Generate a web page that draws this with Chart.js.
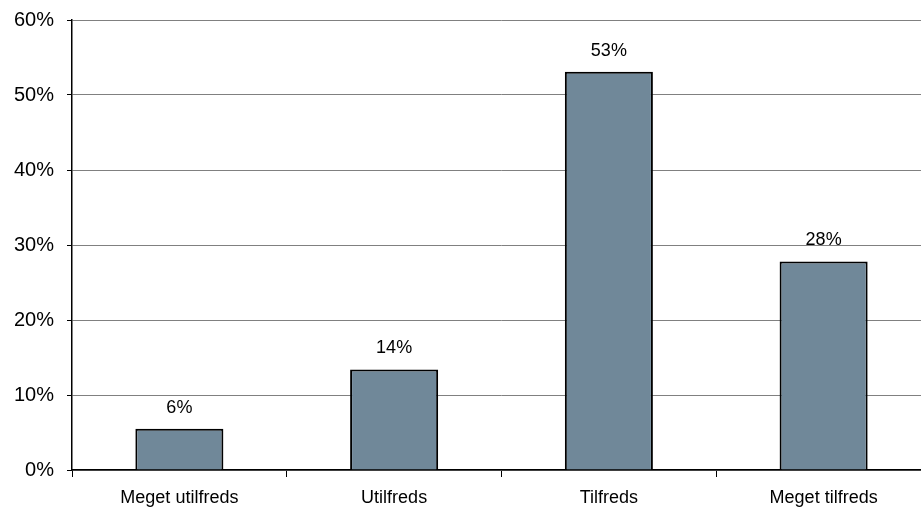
<!DOCTYPE html>
<html>
<head>
<meta charset="utf-8">
<script src="https://cdn.jsdelivr.net/npm/chart.js@4/dist/chart.umd.min.js"></script>
<style>
html,body{margin:0;padding:0;background:#ffffff;overflow:hidden;width:921px;height:508px;}
canvas{display:block;}
</style>
</head>
<body>
<canvas id="c" width="931" height="508"></canvas>
<script>
const categories = ["Meget utilfreds", "Utilfreds", "Tilfreds", "Meget tilfreds"];
const values = [5.5, 13.4, 53.1, 27.8];
const valueLabels = ["6%", "14%", "53%", "28%"];
const yTicks = [0, 10, 20, 30, 40, 50, 60];

const dataLabelPlugin = {
  id: 'dataLabels',
  afterDatasetsDraw(chart) {
    const ctx = chart.ctx;
    const meta = chart.getDatasetMeta(0);
    ctx.save();
    ctx.font = '18px "Liberation Sans", Arial, sans-serif';
    ctx.fillStyle = '#000000';
    ctx.textAlign = 'center';
    ctx.textBaseline = 'middle';
    meta.data.forEach((bar, i) => {
      ctx.fillText(valueLabels[i], bar.x, bar.y - 21);
    });
    ctx.restore();
  }
};

new Chart(document.getElementById('c'), {
  type: 'bar',
  data: {
    labels: categories,
    datasets: [{
      data: values,
      backgroundColor: '#708899',
      borderColor: '#000000',
      borderWidth: 2,
      categoryPercentage: 1,
      barPercentage: 0.41
    }]
  },
  options: {
    responsive: false,
    animation: false,
    devicePixelRatio: 1,
    layout: { padding: { top: 20, right: 0, left: 0, bottom: 0 } },
    plugins: { legend: { display: false }, tooltip: { enabled: false } },
    scales: {
      x: {
        afterFit(scale) { scale.height = 38; scale.paddingLeft = 0; scale.paddingRight = 0; },
        grid: { display: true, drawOnChartArea: false, offset: true, tickLength: 7, color: '#000000', lineWidth: 1 },
        border: { display: true, color: '#000000', width: 1.5 },
        ticks: { color: '#000000', padding: 10, maxRotation: 0, font: { family: '"Liberation Sans", Arial, sans-serif', size: 18 } }
      },
      y: {
        min: 0, max: 60,
        afterFit(scale) { scale.width = 72; scale.paddingTop = 0; scale.paddingBottom = 0; },
        afterBuildTicks(scale) { scale.ticks = yTicks.map(v => ({ value: v })); },
        grid: { color: '#808080', lineWidth: 1, tickLength: 5, tickColor: '#000000' },
        border: { display: true, color: '#000000', width: 1.5 },
        ticks: {
          color: '#000000', padding: 13,
          font: { family: '"Liberation Sans", Arial, sans-serif', size: 20 },
          callback: v => v + '%'
        }
      }
    }
  },
  plugins: [dataLabelPlugin]
});
</script>
</body>
</html>
